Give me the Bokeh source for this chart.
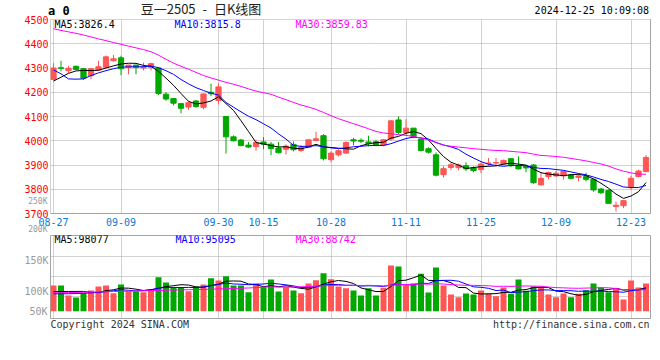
from bokeh.plotting import figure
from bokeh.layouts import column
from bokeh.models import Range1d, FixedTicker, Label, LinearAxis, ColumnDataSource, Div
from bokeh.embed import file_html
from bokeh.resources import INLINE

# ---------------- data ----------------
dates = ["08-27", "08-28", "08-29", "08-30",
         "09-02", "09-03", "09-04", "09-05", "09-06", "09-09", "09-10", "09-11", "09-12", "09-13",
         "09-18", "09-19", "09-20", "09-23", "09-24", "09-25", "09-26", "09-27", "09-30",
         "10-08", "10-09", "10-10", "10-11", "10-14", "10-15", "10-16", "10-17", "10-18",
         "10-21", "10-22", "10-23", "10-24", "10-25", "10-28", "10-29", "10-30", "10-31",
         "11-01", "11-04", "11-05", "11-06", "11-07", "11-08", "11-11", "11-12", "11-13", "11-14", "11-15",
         "11-18", "11-19", "11-20", "11-21", "11-22", "11-25", "11-26", "11-27", "11-28", "11-29",
         "12-02", "12-03", "12-04", "12-05", "12-06", "12-09", "12-10", "12-11", "12-12", "12-13",
         "12-16", "12-17", "12-18", "12-19", "12-20", "12-23", "12-24", "12-25"]

opens = [4253, 4301, 4289, 4307, 4297, 4268, 4292, 4303, 4330, 4342,
         4303, 4312, 4300, 4303, 4300, 4192, 4174, 4153, 4139, 4164,
         4138, 4200, 4166, 4100, 4016, 4003, 3982, 3976, 3995, 3986,
         3970, 3965, 3985, 3960, 3973, 4001, 4021, 3922, 3942, 3949,
         4004, 4002, 3995, 3996, 3982, 4007, 4086, 4034, 4052, 4007,
         3967, 3942, 3860, 3890, 3889, 3897, 3888, 3881, 3906, 3908,
         3904, 3926, 3897, 3895, 3900, 3818, 3852, 3855, 3855, 3859,
         3849, 3852, 3841, 3801, 3795, 3729, 3732, 3811, 3852, 3873]
highs = [4320, 4330, 4309, 4310, 4300, 4300, 4330, 4351, 4354, 4351,
         4313, 4313, 4322, 4322, 4302, 4201, 4176, 4155, 4162, 4168,
         4194, 4235, 4238, 4100, 4022, 4008, 3995, 4004, 4015, 3995,
         3995, 3985, 3997, 3982, 4004, 4037, 4027, 3956, 3965, 3997,
         4012, 4010, 4021, 4004, 4007, 4086, 4100, 4089, 4052, 4007,
         3973, 3952, 3895, 3908, 3906, 3911, 3895, 3911, 3929, 3929,
         3922, 3929, 3936, 3901, 3904, 3870, 3873, 3876, 3877, 3862,
         3866, 3868, 3845, 3805, 3800, 3749, 3756, 3856, 3881, 3941]
lows = [4249, 4286, 4280, 4292, 4251, 4254, 4290, 4300, 4326, 4270,
        4274, 4274, 4290, 4290, 4189, 4165, 4146, 4113, 4127, 4136,
        4130, 4184, 4150, 3947, 3997, 3977, 3970, 3959, 3965, 3941,
        3947, 3943, 3956, 3953, 3973, 3997, 3919, 3912, 3935, 3945,
        3981, 3990, 3977, 3977, 3977, 4000, 4025, 4021, 4011, 3956,
        3947, 3853, 3848, 3878, 3878, 3875, 3870, 3867, 3895, 3895,
        3899, 3892, 3881, 3870, 3822, 3815, 3841, 3851, 3840, 3840,
        3832, 3832, 3790, 3780, 3740, 3708, 3722, 3797, 3849, 3870]
closes = [4300, 4299, 4299, 4294, 4258, 4297, 4305, 4346, 4338, 4297,
          4312, 4303, 4303, 4318, 4195, 4172, 4155, 4134, 4157, 4141,
          4193, 4194, 4222, 4016, 4000, 3980, 3974, 3993, 3986, 3968,
          3951, 3978, 3963, 3974, 4004, 4008, 3926, 3949, 3959, 3993,
          3999, 3998, 3988, 3982, 4004, 4082, 4034, 4052, 4018, 3960,
          3953, 3858, 3885, 3901, 3900, 3884, 3877, 3904, 3908, 3910,
          3919, 3897, 3884, 3888, 3827, 3845, 3869, 3866, 3874, 3845,
          3855, 3841, 3797, 3786, 3742, 3734, 3753, 3845, 3875, 3931]
volumes = [109100, 109100, 92600, 89300, 96400, 100800, 107400, 109100, 96400, 110700,
           99700, 99200, 98100, 102500, 122900, 114100, 106300, 106300, 99700, 107400,
           110700, 121200, 117400, 124500, 109100, 109100, 98100, 112400, 106300, 119000,
           99200, 106300, 100800, 96400, 112400, 117900, 129500, 119600, 107400, 104700,
           100800, 92600, 104700, 92600, 105200, 142100, 140500, 109100, 112400, 128400,
           97500, 138800, 109100, 94200, 89800, 95900, 94200, 100800, 95900, 91500,
           105800, 95300, 119000, 100300, 107400, 107400, 94200, 89800, 95900, 89800,
           95300, 101400, 112400, 105800, 98100, 104700, 85900, 117400, 105800, 112400]

# moving-average values before enough bars are on the chart
price_ma5_lead = [4246, 4262, 4278, 4288]
price_ma10_lead = [4292, 4276, 4255, 4254, 4255, 4269, 4280, 4289, 4297]
price_ma30_lead = [4462, 4455, 4449, 4443, 4436, 4428, 4420, 4413, 4405, 4398,
                   4390, 4383, 4376, 4367, 4353, 4336, 4320, 4307, 4295, 4282,
                   4269, 4259, 4250, 4241, 4233, 4224, 4214, 4205, 4198]
vol_ma5_lead = [99000, 99200, 99200, 99300]
vol_ma10_lead = [95300, 95300, 95500, 95800, 96200, 97000, 97800, 98900, 100300]
vol_ma30_lead = [97000, 97200, 97400, 97600, 97900, 98200, 98500, 98800, 99100, 99400,
                 99700, 100000, 100300, 100600, 100900, 101200, 101500, 101800, 102100, 102400,
                 102700, 103000, 103400, 103800, 104200, 104600, 105000, 105600, 106200]

tick_dates = ["08-27", "09-09", "09-30", "10-15", "10-28", "11-11", "11-25", "12-09", "12-23"]
price_ticks = [3700, 3800, 3900, 4000, 4100, 4200, 4300, 4400, 4500]
vol_ticks = [100000, 150000]
vol_tick_labels = ["100K", "150K"]
vol_stray_labels = ["250K", "200K", "50K"]

title_text = "豆一2505 - 日K线图"
corner_text = "a 0"
stamp_text = "2024-12-25 10:09:08"
price_ma_labels = ["MA5:3826.4", "MA10:3815.8", "MA30:3859.83"]
vol_ma_labels = ["MA5:98077", "MA10:95095", "MA30:88742"]
footer_left = "Copyright 2024 SINA.COM"
footer_right = "http://finance.sina.com.cn"

# ---------------- style / geometry ----------------
RED = "#ff5555"
GREEN = "#00a800"
MA_COLORS = ["#000000", "#0000ff", "#ff00ff"]
GRID = "#a4a4a4"
XLAB = "#0a78d4"
MONO = "DejaVu Sans Mono"
HEADER_H = 15

FRAME_L, FRAME_R = 50, 650
P_TOP, P_BOT = 19, 213
V_TOP, V_BOT = 235, 318
X0, X1 = -0.4, 79.6
P0, P1 = 3700, 4500
Y100K, PX_PER_K = 290.5, 0.605
V0 = 100000 - (V_BOT - Y100K) / PX_PER_K * 1000
V1 = 100000 + (Y100K - V_TOP) / PX_PER_K * 1000


def px_x(px):
    return X0 + (px - FRAME_L) / (FRAME_R - FRAME_L) * (X1 - X0)


def py_p(py):
    return P0 + (P_BOT - py) / (P_BOT - P_TOP) * (P1 - P0)


def py_v(py):
    return V0 + (V_BOT - py) / (V_BOT - V_TOP) * (V1 - V0)


VOL_BASE = py_v(310.7)


def moving_avg(vals, n, lead):
    out = []
    for i in range(len(vals)):
        if i < n - 1:
            out.append(lead[i])
        else:
            out.append(sum(vals[i - n + 1:i + 1]) / n)
    return out


xs = list(range(len(dates)))
colors = [RED if c >= o else GREEN for o, c in zip(opens, closes)]
src = ColumnDataSource(dict(
    x=xs, low=lows, high=highs,
    bt=[max(o, c) for o, c in zip(opens, closes)],
    bb=[min(o, c) for o, c in zip(opens, closes)],
    vol=volumes, color=colors))

tick_pos = [dates.index(d) for d in tick_dates]


def label(fig, px, y, text, color="#000000", size="10px", align="left", font=MONO,
          style="normal", place="center", line_height=1.2):
    fig.add_layout(Label(x=px_x(px), y=y, x_units="data", y_units="data", text=text,
                         text_color=color, text_font_size=size, text_align=align,
                         text_baseline="middle", text_font=font, text_font_style=style,
                         text_line_height=line_height), place)


def plain_axis(ax, color, size="10px", standoff=2):
    ax.major_label_text_color = color
    ax.major_label_text_font = MONO
    ax.major_label_text_font_size = size
    ax.major_tick_line_color = None
    ax.minor_tick_line_color = None
    ax.major_tick_out = 0
    ax.major_tick_in = 0
    ax.minor_tick_out = 0
    ax.minor_tick_in = 0
    ax.major_label_standoff = standoff


# ---------------- header (html text) ----------------
header_html = (
    f'<div style="position:relative;width:652px;height:{HEADER_H}px;">'
    f'<span style="position:absolute;left:48px;top:5px;font-family:\'{MONO}\';font-size:12px;'
    f'font-weight:bold;line-height:12px;color:#000;white-space:nowrap;">{corner_text}</span>'
    f'<span style="position:absolute;left:201px;top:2px;transform:translateX(-50%);'
    f'font-family:\'Noto Sans CJK SC\';font-size:13px;line-height:13px;color:#222;'
    f'word-spacing:4px;white-space:nowrap;">{title_text}</span>'
    f'<span style="position:absolute;right:3px;top:6px;font-family:\'{MONO}\';font-size:10px;'
    f'line-height:10px;color:#000;white-space:nowrap;">{stamp_text}</span>'
    '</div>')
header = Div(text=header_html, width=652, height=HEADER_H, margin=(0, 0, 0, 0))

# ---------------- price panel ----------------
p = figure(frame_width=FRAME_R - FRAME_L, frame_height=P_BOT - P_TOP,
           x_range=Range1d(X0, X1), y_range=Range1d(P0, P1),
           output_backend="svg", toolbar_location=None,
           min_border_left=FRAME_L, min_border_right=2, min_border_top=P_TOP - HEADER_H,
           min_border_bottom=V_TOP - P_BOT)
p.outline_line_color = GRID
p.outline_line_dash = "1 1"
p.background_fill_color = "white"
p.border_fill_color = "white"

ya = p.yaxis[0]
ya.ticker = FixedTicker(ticks=price_ticks)
plain_axis(ya, "#ff0000")
ya.axis_line_color = None

xa = p.xaxis[0]
xa.ticker = FixedTicker(ticks=tick_pos)
xa.major_label_overrides = {pos: d for pos, d in zip(tick_pos, tick_dates)}
plain_axis(xa, XLAB, standoff=4)
xa.axis_line_color = GRID

ra = LinearAxis(ticker=FixedTicker(ticks=[]), axis_line_color=GRID,
                major_label_text_font_size="0px")
plain_axis(ra, GRID, size="0px", standoff=0)
ra.axis_line_color = GRID
p.add_layout(ra, "right")

p.xgrid.ticker = FixedTicker(ticks=tick_pos)
p.ygrid.ticker = FixedTicker(ticks=price_ticks)
for g in (p.xgrid[0], p.ygrid[0]):
    g.grid_line_color = GRID
    g.grid_line_dash = "1 1"

p.segment(x0="x", y0="low", x1="x", y1="high", line_color="color", line_width=1, source=src)
p.vbar(x="x", width=0.7, top="bt", bottom="bb", fill_color="color", line_color="color",
       line_width=1, source=src)

for n, lead, col in zip((5, 10, 30), (price_ma5_lead, price_ma10_lead, price_ma30_lead), MA_COLORS):
    p.line(xs, moving_avg(closes, n, lead), line_color=col, line_width=1)

for px, txt, col in zip((54, 174, 295), price_ma_labels, MA_COLORS):
    label(p, px, py_p(24), txt, color=col)
# Sina's volume labels that spill above the volume panel (two lines, 30px apart)
label(p, 47, py_p(215), vol_stray_labels[0] + "\n" + vol_stray_labels[1], color="#999999",
      size="8px", align="right", place="left", line_height=3.2)

# ---------------- volume panel ----------------
q = figure(frame_width=FRAME_R - FRAME_L, frame_height=V_BOT - V_TOP,
           x_range=p.x_range, y_range=Range1d(V0, V1),
           output_backend="svg", toolbar_location=None,
           min_border_left=FRAME_L, min_border_right=2, min_border_top=0, min_border_bottom=20)
q.outline_line_color = GRID
q.background_fill_color = "white"
q.border_fill_color = "white"
q.xaxis.visible = False

qa = q.yaxis[0]
qa.ticker = FixedTicker(ticks=vol_ticks)
qa.major_label_overrides = {t: s for t, s in zip(vol_ticks, vol_tick_labels)}
plain_axis(qa, "#999999")
qa.axis_line_color = None

q.xgrid.ticker = FixedTicker(ticks=tick_pos)
q.ygrid.ticker = FixedTicker(ticks=[py_v(295.7), py_v(275.7), py_v(255.7)])
for g in (q.xgrid[0], q.ygrid[0]):
    g.grid_line_color = GRID
    g.grid_line_dash = "1 1"

q.vbar(x="x", width=0.8, top="vol", bottom=VOL_BASE, fill_color="color", line_color=None, source=src)
for n, lead, col in zip((5, 10, 30), (vol_ma5_lead, vol_ma10_lead, vol_ma30_lead), MA_COLORS):
    q.line(xs, moving_avg(volumes, n, lead), line_color=col, line_width=1)

for px, txt, col in zip((54, 175, 295), vol_ma_labels, MA_COLORS):
    label(q, px, py_v(238.5), txt, color=col)
label(q, 47, py_v(311), vol_stray_labels[2], color="#999999", size="10px", align="right",
      place="left")
label(q, 50, py_v(324), footer_left, color="#333333", place="below")
label(q, 649, py_v(324), footer_right, color="#333333", align="right", place="below")

layout = column(header, p, q)
open("out.html", "w").write(file_html(layout, INLINE))
